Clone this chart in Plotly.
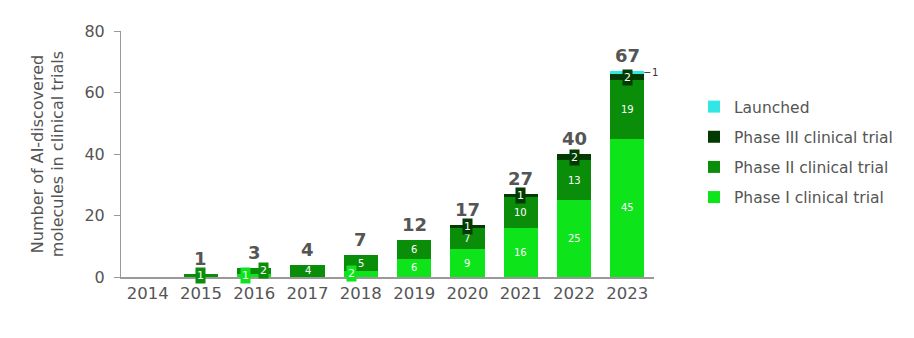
import plotly.graph_objects as go

years = ["2014", "2015", "2016", "2017", "2018", "2019", "2020", "2021", "2022", "2023"]
phase1 = [0, 0, 1, 0, 2, 6, 9, 16, 25, 45]
phase2 = [0, 1, 2, 4, 5, 6, 7, 10, 13, 19]
phase3 = [0, 0, 0, 0, 0, 0, 1, 1, 2, 2]
launched = [0, 0, 0, 0, 0, 0, 0, 0, 0, 1]

series = [
    ("Phase I clinical trial", phase1, "#0DE41A"),
    ("Phase II clinical trial", phase2, "#0A8E0A"),
    ("Phase III clinical trial", phase3, "#013B01"),
    ("Launched", launched, "#33E6E6"),
]

FONT = "DejaVu Sans"
GRAY = "#555555"
BAR_W = 0.64

fig = go.Figure()
n = len(series)
for i, (name, vals, col) in enumerate(series):
    fig.add_trace(go.Bar(
        x=list(range(len(years))), y=vals, name=name,
        marker=dict(color=col, line=dict(width=0)),
        width=BAR_W, legendrank=n - i, legendgroup=f"g{n - i}", hoverinfo="skip",
    ))

annotations = []
totals = [sum(s[1][k] for s in series) for k in range(len(years))]

for k, yr in enumerate(years):
    base = 0
    for si, (name, vals, col) in enumerate(series[:3]):
        v = vals[k]
        if v > 0:
            mid = base + v / 2
            small = v <= 2
            xshift = 0
            if small and si == 0 and phase2[k] > 0:
                xshift = -9
            if small and si == 1 and 0 < phase1[k] <= 2:
                xshift = 9
            ann = dict(
                x=k, y=mid, text=str(v), showarrow=False, xshift=xshift,
                font=dict(family=FONT, size=10 if not small else 11, color="white"),
                borderpad=1,
            )
            if small:
                ann["bgcolor"] = col
            annotations.append(ann)
        base += v
    if launched[k] > 0:
        annotations.append(dict(
            x=k + BAR_W / 2, y=base + launched[k] / 2, xref="x", yref="y",
            text=str(launched[k]), showarrow=True, arrowhead=0, arrowwidth=1,
            arrowcolor="#444444", ax=6, ay=0, xanchor="left",
            font=dict(family=FONT, size=10, color="#333333"),
        ))
    if totals[k] > 0:
        annotations.append(dict(
            x=k, y=totals[k], text=f"<b>{totals[k]}</b>", showarrow=False,
            yanchor="bottom", yshift=3,
            font=dict(family=FONT, size=18, color=GRAY),
        ))

fig.update_layout(
    width=914, height=338,
    margin=dict(l=121, r=260, t=31, b=61),
    barmode="stack",
    plot_bgcolor="white", paper_bgcolor="white",
    font=dict(family=FONT, color=GRAY),
    showlegend=True,
    legend=dict(
        x=1.075, y=0.76, xanchor="left", yanchor="top",
        traceorder="grouped", tracegroupgap=7,
        font=dict(family=FONT, size=15.5, color=GRAY),
        itemwidth=30,
    ),
    xaxis=dict(
        range=[-0.5, 9.5], showline=True, linecolor="#999999",
        linewidth=1.5, ticks="", tickmode="array",
        tickvals=list(range(len(years))), ticktext=years,
        tickfont=dict(family=FONT, size=16.5, color=GRAY),
        showgrid=False, zeroline=False,
    ),
    yaxis=dict(
        range=[0, 80], dtick=20, showline=True, linecolor="#999999", linewidth=1,
        ticks="outside", ticklen=6, tickcolor="#999999", ticklabelstandoff=6,
        tickfont=dict(family=FONT, size=16, color=GRAY), showgrid=False,
        zeroline=False,
        title=dict(text="Number of AI-discovered<br>molecules in clinical trials",
                   font=dict(family=FONT, size=16, color=GRAY), standoff=16),
    ),
    annotations=annotations,
)

fig.write_html("out.html")
